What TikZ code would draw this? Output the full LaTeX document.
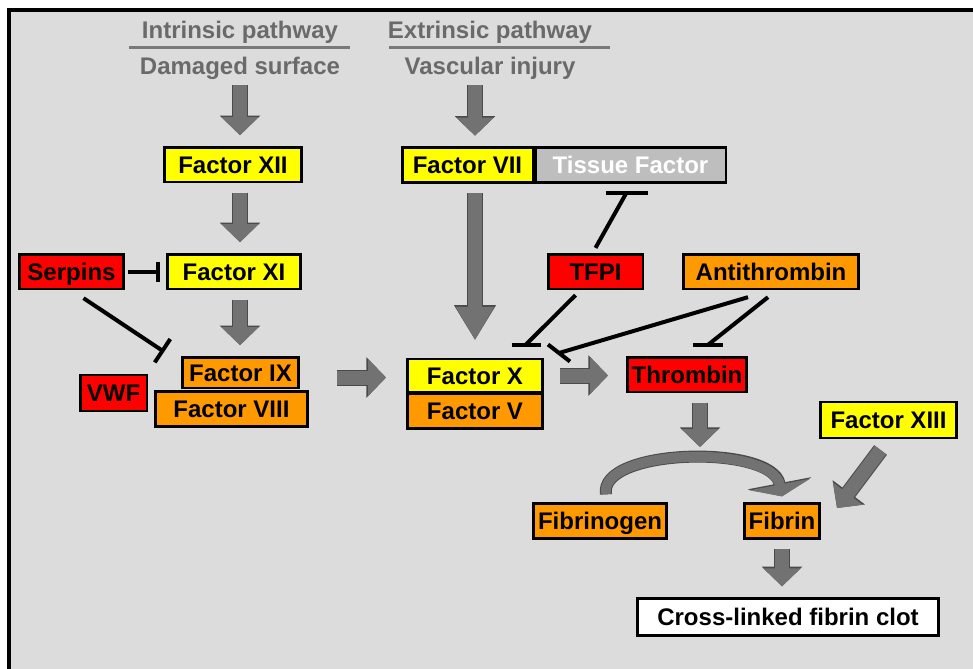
\documentclass[tikz,border=0pt]{standalone}
\usepackage{fontspec}
\setmainfont{Liberation Sans}
\usetikzlibrary{arrows.meta,calc}
\definecolor{bggray}{HTML}{DCDCDC}
\definecolor{arrowgray}{HTML}{727272}
\definecolor{arrowline}{HTML}{4A4A4A}
\definecolor{headgray}{HTML}{6A6A6A}
\definecolor{tfgray}{HTML}{BEBEBE}
\definecolor{fred}{HTML}{FF0000}
\definecolor{forange}{HTML}{FF9900}
\definecolor{fyellow}{HTML}{FFFF00}

\tikzset{
  box/.style={draw=black, line width=2pt, inner sep=0pt, minimum height=26pt,
    text height=13.5pt, text depth=0.6pt, font=\fontsize{18}{21}\selectfont\bfseries},
  yellowbox/.style={box, fill=fyellow},
  redbox/.style={box, fill=fred},
  orangebox/.style={box, fill=forange},
  header/.style={inner sep=0pt, text=headgray, text height=13.5pt, text depth=0.6pt,
    font=\fontsize{18}{21}\selectfont\bfseries},
  headline/.style={draw=headgray!90!white, line width=2.25pt},
  inhibit/.style={draw=black, line width=3pt},
  flow/.style={draw=arrowgray, line width=10.5pt, -{Triangle[width=27pt,length=#1]},
    shorten <=7pt, shorten >=8pt,
    preaction={draw=arrowline, line width=12pt, -{Triangle[width=29.5pt,length=#1+1.2pt]}}},
  flow/.default=13.5pt,
  curveflow/.style={draw=arrowgray, line width=7.5pt, -{Triangle[width=46pt,length=9pt]},
    preaction={draw=arrowline, line width=9pt, -{Triangle[width=48.5pt,length=10pt]}}},
}

\begin{document}
\begin{tikzpicture}[x=0.75pt, y=-0.75pt]
    \useasboundingbox (0,0) rectangle (973,668);
    \fill [white] (0,0) rectangle (973,668);
    \draw [fill=bggray, line width=3pt] (8.5,10) rectangle (1000,700);

    \node (ip) at (240,30) [header] {Intrinsic pathway};
    \draw [headline] (129,47) -- (350,47);
    \node (ds) at (240,66) [header] {Damaged surface};
    \node (ep) at (490,30) [header] {Extrinsic pathway};
    \draw [headline] (389,47) -- (610,47);
    \node (vi) at (490,66) [header] {Vascular injury};

    \node (xii) at (233,164.5) [yellowbox, minimum width=103pt] {Factor XII};
    \node (xi) at (234,271.5) [yellowbox, minimum width=100pt] {Factor XI};
    \node (serpins) at (71.5,271.5) [redbox, minimum width=78pt] {Serpins};
    \node (viii) at (231.5,409) [orangebox, minimum width=114pt] {Factor VIII};
    \node (ix) at (240.5,372.5) [orangebox, minimum width=87pt, minimum height=23pt] {Factor IX};
    \node (vwf) at (113.5,393) [redbox, minimum width=50pt, minimum height=27pt] {VWF};

    \node (vii) at (467.5,165) [yellowbox, minimum width=98pt] {Factor VII};
    \node (tf) at (630.5,165) [box, fill=tfgray, text=white, minimum width=143pt] {Tissue Factor};
    \node (tfpi) at (595.5,271.5) [redbox, minimum width=71pt] {TFPI};
    \node (at) at (771,271.5) [orangebox, minimum width=131.5pt] {Antithrombin};
    \node (fx) at (475,375.5) [yellowbox, minimum width=101.5pt, minimum height=25pt] {Factor X};
    \node (fv) at (475,411) [orangebox, minimum width=101.5pt] {Factor V};
    \node (thr) at (687,374.5) [redbox, minimum width=89.5pt] {Thrombin};

    \node (xiii) at (888.5,420) [yellowbox, minimum width=102pt, minimum height=27pt] {Factor XIII};
    \node (fbg) at (600,521) [orangebox, minimum width=100pt] {Fibrinogen};
    \node (fbn) at (782,521) [orangebox, minimum width=56.5pt] {Fibrin};
    \node (clot) at (788,617) [box, fill=white, minimum width=226pt, minimum height=28pt] {Cross-linked fibrin clot};

    \coordinate (arctop) at (700,455);
    \coordinate (tfbar) at ($(tf.south)+(-4,9)$);
    \coordinate (fxbar) at ($(fx.north east)+(-18,-13)$);
    \coordinate (fxbar2) at ($(fx.north east)+(15,-4.5)$);
    \coordinate (thrbar) at ($(thr.north)+(21,-11)$);

    \draw [flow] (ds.south) -- (ds.south |- xii.north);
    \draw [flow] (xii.south -| ds) -- (xi.north -| ds);
    \draw [flow] (xi.south -| ds) -- (ix.north -| ds);
    \draw [flow, shorten <=21pt, shorten >=15pt] ($(viii.east |- ix.east)+(0,5)$) -- ($(fx.west |- ix.east)+(0,5)$);
    \draw [flow] (vi.south -| fx) -- (vii.north -| fx);
    \draw [flow=25pt, shorten >=13pt] (vii.south -| fx) -- (fx.north);
    \draw [flow, shorten <=12pt, shorten >=13.5pt] (fx.east) -- (thr.west |- fx.east);
    \draw [flow, shorten >=6pt] (thr.south -| arctop) -- (arctop);
    \draw [flow, shorten <=10pt, shorten >=0pt] (xiii.south) -- ($(fbn.east)+(16,-13)$);
    \draw [flow] (fbn.south) -- (fbn.south |- clot.north);
    \draw [curveflow] ($(fbg.north)+(6,-8)$) .. controls (598,448) and (772,444) .. ($(fbn.north)+(0,-6)$);

    \draw [inhibit, -{Bar[width=15pt]}, shorten <=2pt, shorten >=4.5pt] (serpins.east) -- (xi.west);
    \draw [inhibit, -{Bar[width=21pt]}] ($(serpins.south)+(12,8)$) -- ($(ix.north west)+(-17,-4)$);
    \draw [inhibit] ($(tfpi.north)+(0,-5)$) -- (tfbar);
    \draw [inhibit] ($(tfbar)+(-21,0)$) -- ($(tfbar)+(21,0)$);
    \draw [inhibit] ($(tfpi.south)+(-20,5)$) -- (fxbar);
    \draw [inhibit] ($(fxbar)+(-14.5,0)$) -- ($(fxbar)+(14.5,0)$);
    \draw [inhibit] ($(at.south)+(-23,7)$) -- (fxbar2);
    \draw [inhibit] ($(fxbar2)+(-11,-8.5)$) -- ($(fxbar2)+(11,8.5)$);
    \draw [inhibit] ($(at.south)+(-3,7)$) -- (thrbar);
    \draw [inhibit] ($(thrbar)+(-15,0)$) -- ($(thrbar)+(15,0)$);
\end{tikzpicture}
\end{document}
